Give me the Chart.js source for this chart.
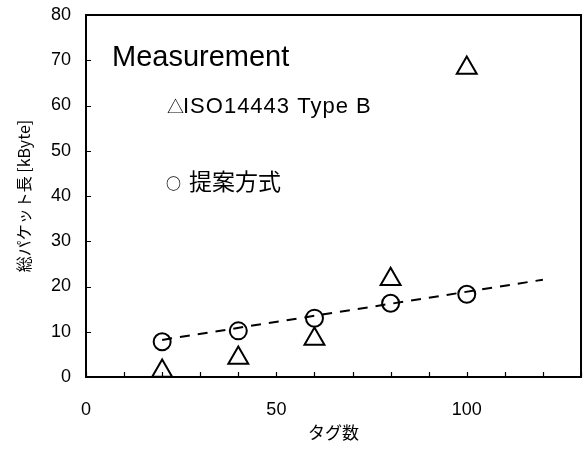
<!DOCTYPE html>
<html>
<head>
<meta charset="utf-8">
<script src="https://cdn.jsdelivr.net/npm/chart.js@4/dist/chart.umd.min.js"></script>
<style>
  html, body { margin: 0; padding: 0; background: #fff; overflow: hidden; }
  canvas { display: block; }
</style>
</head>
<body>
<canvas id="chart" width="584" height="452"></canvas>
<script>
// Tag counts measured (x) and total packet length in kByte (y)
const TAGS = [20, 40, 60, 80, 100];
const PROPOSED = [7.8, 10.2, 13.0, 16.3, 18.3];      // circles
const ISO_TYPE_B = [1.3, 4.2, 8.4, 21.6, 68.3];      // triangles

// Dashed trend line for the proposed method (end points)
const TREND_X = [20, 120];
const TREND_Y = [8.2, 21.5];

const NOTE_TITLE = "Measurement";
const NOTE_TRI = "△";
const NOTE_ISO = "ISO14443 Type B";
const NOTE_MARK = "○";
const NOTE_PROPOSED = "提案方式";

const X_TITLE = "タグ数";
const Y_TITLE = "総パケット長 [kByte]";

const LATIN = "'Liberation Sans', Arial, 'Noto Sans CJK JP', sans-serif";
const CJK = "'Noto Sans CJK JP', 'Liberation Sans', sans-serif";

Chart.defaults.font.family = LATIN;
Chart.defaults.color = "#000";

const toPoints = (xs, ys) => xs.map((x, i) => ({ x, y: ys[i] }));

// Plot frame plus inward tick marks, placed from the scales themselves
const framePlugin = {
  id: "frame",
  afterDraw(chart) {
    const { ctx, scales: { x, y } } = chart;
    const left = x.getPixelForValue(x.min);
    const right = x.getPixelForValue(x.max);
    const top = y.getPixelForValue(y.max);
    const bottom = y.getPixelForValue(y.min);
    ctx.save();
    ctx.strokeStyle = "#000";
    ctx.lineWidth = 2;
    ctx.strokeRect(left, top, right - left, bottom - top);
    ctx.lineWidth = 1.2;
    ctx.beginPath();
    x.ticks.forEach((t) => {
      const px = Math.round(x.getPixelForValue(t.value)) + 0.5;
      ctx.moveTo(px, bottom);
      ctx.lineTo(px, bottom - 5);
    });
    y.ticks.forEach((t) => {
      const py = Math.round(y.getPixelForValue(t.value)) + 0.5;
      ctx.moveTo(left, py);
      ctx.lineTo(left + 5, py);
    });
    ctx.stroke();
    ctx.restore();
  },
};

// Text notes written inside the plot
const notesPlugin = {
  id: "notes",
  afterDraw(chart) {
    const { ctx } = chart;
    ctx.save();
    ctx.fillStyle = "#000";
    ctx.textBaseline = "alphabetic";
    ctx.font = "29px " + LATIN;
    ctx.fillText(NOTE_TITLE, 112, 66);
    ctx.font = "17px " + CJK;
    ctx.fillText(NOTE_TRI, 167, 113);
    ctx.font = "22px " + LATIN;
    ctx.letterSpacing = "1px";
    ctx.fillText(NOTE_ISO, 183, 113);
    ctx.letterSpacing = "0px";
    ctx.font = "bold 15px " + CJK;
    ctx.fillText(NOTE_MARK, 166, 189);
    ctx.font = "23px " + CJK;
    ctx.fillText(NOTE_PROPOSED, 189, 190);
    ctx.restore();
  },
};

// Gap between axis and labels is made with invisible tick marks so the
// label padding does not eat into the plot width
const hiddenTicks = (len) => ({
  display: true,
  drawOnChartArea: false,
  drawTicks: true,
  tickLength: len,
  tickColor: "rgba(0,0,0,0)",
});

new Chart(document.getElementById("chart"), {
  type: "scatter",
  data: {
    datasets: [
      {
        label: "trend",
        type: "line",
        data: toPoints(TREND_X, TREND_Y),
        borderColor: "#000",
        borderWidth: 2,
        borderDash: [10, 8],
        pointRadius: 0,
        fill: false,
      },
      {
        label: NOTE_PROPOSED,
        data: toPoints(TAGS, PROPOSED),
        pointStyle: "circle",
        pointRadius: 8.5,
        borderColor: "#000",
        borderWidth: 2,
        backgroundColor: "rgba(0,0,0,0)",
      },
      {
        label: NOTE_ISO,
        data: toPoints(TAGS, ISO_TYPE_B),
        pointStyle: "triangle",
        pointRadius: 11.5,
        borderColor: "#000",
        borderWidth: 2,
        backgroundColor: "rgba(0,0,0,0)",
        clip: false,
      },
    ],
  },
  options: {
    responsive: false,
    animation: false,
    layout: {
      autoPadding: false, // big markers would otherwise shrink the plot
      padding: { top: 15, right: 3, left: 0, bottom: 0 },
    },
    plugins: {
      legend: { display: false },
      tooltip: { enabled: false },
    },
    scales: {
      x: {
        type: "linear",
        min: 0,
        max: 130,
        grid: hiddenTicks(19),
        border: { display: false },
        afterFit: (s) => { s.height = 75; },
        ticks: {
          stepSize: 10,
          padding: 3,
          maxRotation: 0,
          autoSkip: false,
          font: { size: 18 },
          callback: (v) => (v % 50 === 0 ? v : ""),
        },
        title: {
          display: true,
          text: X_TITLE,
          font: { size: 17, family: CJK },
          padding: { top: 0, bottom: 9 },
        },
      },
      y: {
        min: 0,
        max: 80,
        grid: hiddenTicks(12),
        border: { display: false },
        afterFit: (s) => { s.width = 86; },
        ticks: {
          stepSize: 10,
          padding: 3,
          font: { size: 18 },
        },
        title: {
          display: true,
          text: Y_TITLE,
          font: { size: 16, family: CJK },
          padding: { top: 14, bottom: 0 },
        },
      },
    },
  },
  plugins: [framePlugin, notesPlugin],
});
</script>
</body>
</html>
